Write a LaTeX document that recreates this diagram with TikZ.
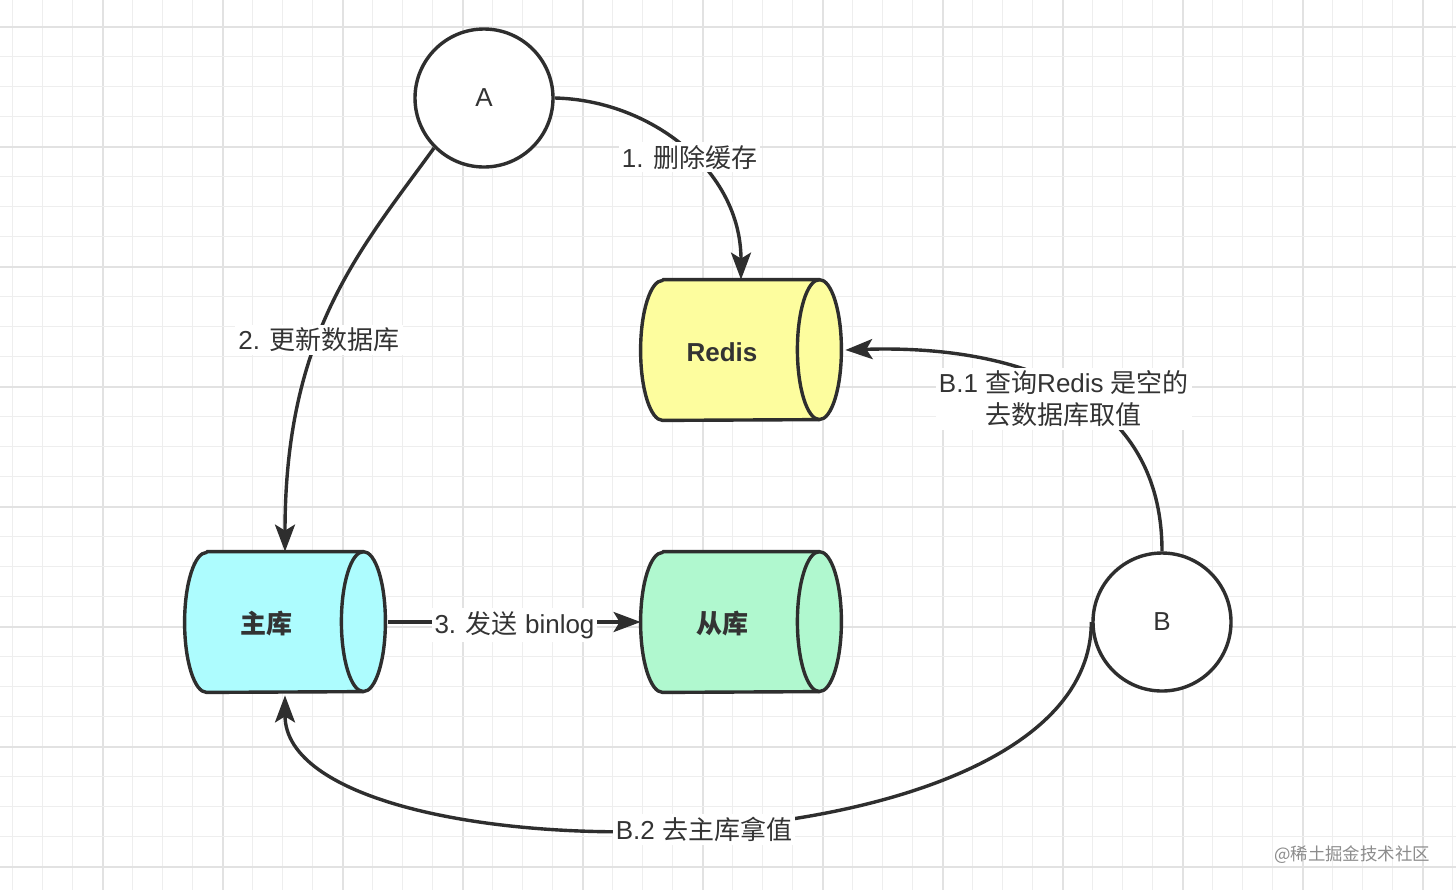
\documentclass[tikz,border=0pt]{standalone}
\usepackage{fontspec}
\setmainfont{Liberation Sans}
\newfontfamily\cjk{Noto Sans CJK SC}
\usetikzlibrary{arrows.meta,calc}
\definecolor{linec}{HTML}{2E2E2E}
\definecolor{textc}{HTML}{333333}
\definecolor{gridminor}{HTML}{EEEEEE}
\definecolor{gridmajor}{HTML}{E2E2E2}
\definecolor{redisfill}{HTML}{FDFD9E}
\definecolor{zhufill}{HTML}{ADFCFE}
\definecolor{congfill}{HTML}{B0F8CF}
\newcommand\drawcyl[2]{%
  \draw[cylline, fill=#2] ([xshift=11pt]#1.north west) -- ([xshift=-11pt]#1.north east)
     arc[start angle=90, end angle=-90, x radius=11pt, y radius=35pt]
     -- ([xshift=11pt]#1.south west)
     arc[start angle=270, end angle=90, x radius=11pt, y radius=35pt] -- cycle;
  \draw[cylline] ([xshift=-11pt]#1.north east)
     arc[start angle=90, end angle=270, x radius=11pt, y radius=35pt];
}
\begin{document}
\begin{tikzpicture}[x=0.5pt,y=-0.5pt,
  cylline/.style={draw=linec, line width=1.7pt, line join=round},
  cylbox/.style={rectangle, minimum width=100pt, minimum height=70pt, inner sep=0pt},
  cyltext/.style={text=textc, font=\fontsize{13pt}{15pt}\selectfont\bfseries, inner sep=0pt},
  circ/.style={circle, draw=linec, line width=1.7pt, fill=white, minimum size=69pt, inner sep=0pt, text=textc, font=\fontsize{13pt}{15pt}\selectfont},
  conn/.style={draw=linec, line width=1.7pt, -{Stealth[length=13.5pt, width=10pt, inset=3pt]}},
  lbl/.style={fill=white, inner sep=1.5pt, text=textc, align=center, yshift=-1.5pt, font=\fontsize{13pt}{16pt}\selectfont}
]
% background and grid
\fill[white] (0,0) rectangle (1456,890);
\useasboundingbox (0,0) rectangle (1456,890);
\foreach \k in {0,...,48} {
  \pgfmathtruncatemacro\m{mod(\k,4)}
  \ifnum\m=3
    \draw[gridmajor, line width=0.8pt] ({12.7+30*\k},0) -- ({12.7+30*\k},890);
  \else
    \draw[gridminor, line width=0.6pt] ({12.7+30*\k},0) -- ({12.7+30*\k},890);
  \fi
}
\foreach \k in {0,...,28} {
  \pgfmathtruncatemacro\m{mod(\k,4)}
  \ifnum\m=0
    \draw[gridmajor, line width=0.8pt] (0,{26.7+30*\k}) -- (1456,{26.7+30*\k});
  \else
    \draw[gridminor, line width=0.6pt] (0,{26.7+30*\k}) -- (1456,{26.7+30*\k});
  \fi
}

% cylinders
\node[cylbox] (redis) at (741,350) {};
\node[cylbox] (zhu) at (285,622) {};
\node[cylbox] (cong) at (741,622) {};
\drawcyl{redis}{redisfill}
\drawcyl{zhu}{zhufill}
\drawcyl{cong}{congfill}
\node[cyltext] (redist) at (722,352) {Redis};
\node[cyltext] (zhut) at (266,624) {\cjk\bfseries 主库};
\node[cyltext] (congt) at (722,624) {\cjk\bfseries 从库};

% actors
\node[circ] (A) at (484,98) {A};
\node[circ] (B) at (1162,622) {B};

% connectors
\draw[conn] (A.east) .. controls +(95,2) and +(0,-110) .. (redis.north)
  node[lbl, pos=0.53] {1. {\cjk 删除缓存}};
\draw[conn] (A.south west) .. controls +(-74,102) and +(0,-218) .. (zhu.north)
  node[lbl, pos=0.58] {2. {\cjk 更新数据库}};
\draw[conn] ([xshift=1.5pt]zhu.east) -- (cong.west)
  node[lbl, pos=0.5] {3. {\cjk 发送} binlog};
\draw[conn] (B.north) .. controls +(0,-170) and +(150,-5) .. ([xshift=2pt]redis.east)
  node[lbl, pos=0.5, xshift=2pt, yshift=-5.5pt] {B.1 {\cjk 查询}Redis {\cjk 是空的}\\{\cjk 去数据库取值}};
\draw[conn] (B.west) .. controls +(0,262) and +(0,188) .. ([yshift=-1.5pt]zhu.south)
  node[lbl, pos=0.487] {B.2 {\cjk 去主库拿值}};

% watermark
\node[text=black!45, font=\cjk\fontsize{8.7pt}{10pt}\selectfont, inner sep=0pt] (wm) at (1352,855) {@稀土掘金技术社区};
\end{tikzpicture}
\end{document}
